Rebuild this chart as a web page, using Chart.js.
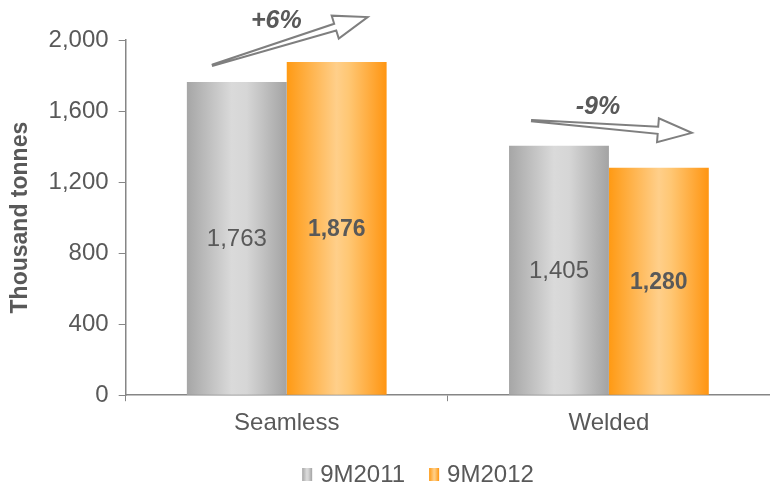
<!DOCTYPE html>
<html>
<head>
<meta charset="utf-8">
<script src="https://cdn.jsdelivr.net/npm/chart.js@4/dist/chart.umd.min.js"></script>
<style>
  html, body { margin: 0; padding: 0; background: #fff; }
  #wrap { width: 770px; height: 485px; }
</style>
</head>
<body>
<div id="wrap"><canvas id="chart" width="770" height="485"></canvas></div>
<script>
// --- datos ---
const categories = ["Seamless", "Welded"];
const series2011 = [1763, 1405];
const series2012 = [1876, 1280];
const changeLabels = ["+6%", "-9%"];
const yTicks = [0, 400, 800, 1200, 1600, 2000];

const TEXT = "#595959";
const FONT = "Arial, 'Liberation Sans', sans-serif";

// gradientes horizontales (oscuro en bordes, claro al centro)
const GREY_STOPS = [[0, "#a6a6a6"], [0.45, "#dadada"], [0.6, "#d6d6d6"], [1, "#a3a3a3"]];
const ORANGE_STOPS = [[0, "#ff9a14"], [0.5, "#ffcf8a"], [0.62, "#ffc774"], [1, "#ff9511"]];

function hGradient(ctx, x0, x1, stops) {
  const g = ctx.createLinearGradient(x0, 0, x1, 0);
  stops.forEach(([p, c]) => g.addColorStop(p, c));
  return g;
}

// pinta cada barra con su degradado antes de dibujar
const barGradients = {
  id: "barGradients",
  beforeDatasetsDraw(chart) {
    const ctx = chart.ctx;
    chart.data.datasets.forEach((ds, i) => {
      const stops = i === 0 ? GREY_STOPS : ORANGE_STOPS;
      chart.getDatasetMeta(i).data.forEach((el) => {
        const l = el.x - el.width / 2;
        el.options.backgroundColor = hGradient(ctx, l, l + el.width, stops);
      });
    });
  }
};

// flecha de bloque con cuerpo en cuña
function drawArrow(ctx, x0, y0, x1, y1) {
  const L = Math.hypot(x1 - x0, y1 - y0);
  const ang = Math.atan2(y1 - y0, x1 - x0);
  const h = 34, w = 12, s = 3.5, t = 0.6;
  ctx.save();
  ctx.translate(x0, y0);
  ctx.rotate(ang);
  ctx.beginPath();
  ctx.moveTo(0, -t);
  ctx.lineTo(L - h, -s);
  ctx.lineTo(L - h, -w);
  ctx.lineTo(L, 0);
  ctx.lineTo(L - h, w);
  ctx.lineTo(L - h, s);
  ctx.lineTo(0, t);
  ctx.closePath();
  ctx.fillStyle = "#ffffff";
  ctx.fill();
  ctx.lineWidth = 2;
  ctx.strokeStyle = "#7f7f7f";
  ctx.lineJoin = "miter";
  ctx.stroke();
  ctx.restore();
}

// etiquetas de valor + flechas de variación
const annotations = {
  id: "annotations",
  afterDatasetsDraw(chart, args, opts) {
    const ctx = chart.ctx;
    const a = chart.getDatasetMeta(0).data;
    const b = chart.getDatasetMeta(1).data;
    ctx.save();
    ctx.textAlign = "center";
    ctx.textBaseline = "middle";
    ctx.fillStyle = TEXT;
    // valores dentro de las barras
    a.forEach((el, i) => {
      ctx.font = "24px " + FONT;
      ctx.fillText(series2011[i].toLocaleString("en-US"), el.x, (el.y + el.base) / 2 + 1);
    });
    b.forEach((el, i) => {
      ctx.font = "bold 23px " + FONT;
      ctx.fillText(series2012[i].toLocaleString("en-US"), el.x, (el.y + el.base) / 2 + 1);
    });
    // flechas
    opts.arrows.forEach((ar, i) => {
      const x0 = a[i].x + ar.tail[0], y0 = a[i].y + ar.tail[1];
      const x1 = b[i].x + ar.tip[0], y1 = b[i].y + ar.tip[1];
      drawArrow(ctx, x0, y0, x1, y1);
      ctx.font = "italic bold 25px " + FONT;
      ctx.fillStyle = TEXT;
      ctx.fillText(changeLabels[i], (x0 + x1) / 2 - 14, (y0 + y1) / 2 - 20);
    });
    ctx.restore();
  }
};

// leyenda propia: cuadrito con degradado + texto
const swatchLegend = {
  id: "swatchLegend",
  afterDraw(chart, args, opts) {
    const ctx = chart.ctx;
    ctx.save();
    ctx.font = "24px " + FONT;
    ctx.textBaseline = "alphabetic";
    ctx.textAlign = "left";
    const items = chart.data.datasets.map((ds, i) => ({
      text: ds.label,
      stops: i === 0 ? GREY_STOPS : ORANGE_STOPS,
      w: ctx.measureText(ds.label).width
    }));
    const total = items.reduce((s, it) => s + 10 + 8 + it.w, 0) + 24 * (items.length - 1);
    let x = opts.centerX - total / 2;
    items.forEach((it) => {
      ctx.fillStyle = hGradient(ctx, x, x + 10, it.stops);
      ctx.fillRect(x, opts.y - 14, 10, 13);
      ctx.fillStyle = TEXT;
      ctx.fillText(it.text, x + 18, opts.y);
      x += 10 + 8 + it.w + 24;
    });
    ctx.restore();
  }
};

new Chart(document.getElementById("chart"), {
  type: "bar",
  data: {
    labels: categories,
    datasets: [
      {
        label: "9M2011",
        data: series2011,
        backgroundColor: () => "#bfbfbf",
        categoryPercentage: 0.62,
        barPercentage: 1.0
      },
      {
        label: "9M2012",
        data: series2012,
        backgroundColor: () => "#ffb347",
        categoryPercentage: 0.62,
        barPercentage: 1.0
      }
    ]
  },
  options: {
    responsive: false,
    animation: false,
    layout: { padding: { top: 40, right: 0, left: 7, bottom: 39 } },
    plugins: {
      legend: { display: false },
      tooltip: { enabled: false },
      annotations: {
        arrows: [
          { tail: [-24, -17], tip: [31, -45] },
          { tail: [-27, -25], tip: [33, -35] }
        ]
      },
      swatchLegend: { centerX: 418, y: 482 }
    },
    scales: {
      x: {
        grid: { drawOnChartArea: false, tickLength: 6, color: "#868686", offset: true },
        border: { color: "#868686", width: 1.5 },
        ticks: { color: TEXT, font: { family: FONT, size: 24 }, padding: 8 }
      },
      y: {
        min: 0,
        max: 2000,
        afterBuildTicks: (axis) => { axis.ticks = yTicks.map((v) => ({ value: v })); },
        grid: { drawOnChartArea: false, tickLength: 7, color: "#868686" },
        border: { color: "#868686", width: 1.5 },
        ticks: {
          color: TEXT,
          font: { family: FONT, size: 24 },
          padding: 10,
          callback: (v) => v.toLocaleString("en-US")
        },
        title: {
          display: true,
          text: "Thousand tonnes",
          color: TEXT,
          font: { family: FONT, size: 23, weight: "bold" },
          padding: { top: 0, bottom: 4 }
        }
      }
    }
  },
  plugins: [barGradients, annotations, swatchLegend]
});
</script>
</body>
</html>
